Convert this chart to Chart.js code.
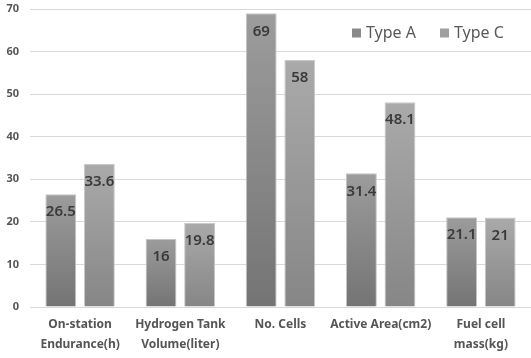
<!DOCTYPE html>
<html><head><meta charset="utf-8">
<script src="https://cdn.jsdelivr.net/npm/chart.js@4"></script>
<style>html,body{margin:0;padding:0;background:#fff}#wrap{width:531px;height:358px;position:relative}</style>
</head><body><div id="wrap"><canvas id="c"></canvas></div>
<script>
const categories = [["On-station","Endurance(h)"],["Hydrogen Tank","Volume(liter)"],["No. Cells"],["Active Area(cm2)"],["Fuel cell","mass(kg)"]];
const seriesNames = ["Type A","Type C"];
const typeA = [26.5, 16, 69, 31.4, 21.1];
const typeC = [33.6, 19.8, 58, 48.1, 21];
const yTicks = [0,10,20,30,40,50,60,70];

const gradTop = ['#9c9c9c','#aaaaaa'];
const gradBot = ['#747474','#868686'];
const legendColors = ['#8a8a8a','#a0a0a0'];

function barGradient(idx){
  return function(ctx){
    const chart = ctx.chart;
    const area = chart.chartArea;
    if(!area || ctx.raw === undefined) return gradTop[idx];
    const y = chart.scales.y;
    const top = y.getPixelForValue(ctx.raw);
    const bot = y.getPixelForValue(0);
    const g = chart.ctx.createLinearGradient(0, top, 0, bot);
    g.addColorStop(0, gradTop[idx]);
    g.addColorStop(1, gradBot[idx]);
    return g;
  };
}

const valueLabels = {
  id:'valueLabels',
  afterDatasetsDraw(chart){
    const ctx = chart.ctx;
    ctx.save();
    ctx.font = '600 15px "Noto Sans"';
    ctx.fillStyle = '#3a3a3a';
    ctx.textAlign = 'center';
    ctx.textBaseline = 'middle';
    chart.data.datasets.forEach((ds,i)=>{
      chart.getDatasetMeta(i).data.forEach((bar,j)=>{
        ctx.fillText(String(ds.data[j]), bar.x, bar.y + 18);
      });
    });
    ctx.restore();
  }
};

const customLegend = {
  id:'customLegend',
  afterDraw(chart){
    const ctx = chart.ctx;
    const a = chart.chartArea;
    ctx.save();
    ctx.font = '16px "Noto Sans"';
    ctx.textBaseline = 'middle';
    ctx.textAlign = 'left';
    const cy = a.top + 24;
    let x = a.right - 179;
    seriesNames.forEach((n,i)=>{
      ctx.fillStyle = legendColors[i];
      ctx.fillRect(x, cy-4.5, 9, 9);
      ctx.fillStyle = '#595959';
      ctx.fillText(n, x + 14, cy);
      x += 88;
    });
    ctx.restore();
  }
};

new Chart(document.getElementById('c'), {
  type:'bar',
  data:{
    labels: categories,
    datasets:[
      {label:seriesNames[0], data:typeA, backgroundColor:barGradient(0), borderColor:'#c4c4c4', borderWidth:1},
      {label:seriesNames[1], data:typeC, backgroundColor:barGradient(1), borderColor:'#c8c8c8', borderWidth:1}
    ]
  },
  options:{
    responsive:true, maintainAspectRatio:false, animation:false,
    layout:{padding:{top:9, right:0, left:0, bottom:0}},
    categoryPercentage:0.77, barPercentage:0.8,
    plugins:{legend:{display:false}, tooltip:{enabled:false}},
    scales:{
      x:{
        grid:{display:false, drawTicks:false},
        border:{display:false},
        ticks:{font:{family:'"Noto Sans"', size:12, weight:'bold', lineHeight:'20px'}, color:'#555555', padding:8, maxRotation:0, autoSkip:false},
        afterFit(s){ s.height = 51; s.paddingLeft = 0; s.paddingRight = 0; }
      },
      y:{
        min:0, max:70,
        afterBuildTicks(s){ s.ticks = yTicks.map(v=>({value:v})); },
        grid:{color:'#d9d9d9', lineWidth:1, drawTicks:false},
        border:{display:false},
        ticks:{font:{family:'"Noto Sans"', size:11, weight:'bold'}, color:'#555555', padding:11},
        afterFit(s){ s.width = 30; s.paddingTop = 0; s.paddingBottom = 0; }
      }
    }
  },
  plugins:[valueLabels, customLegend]
});
</script>
</body></html>
